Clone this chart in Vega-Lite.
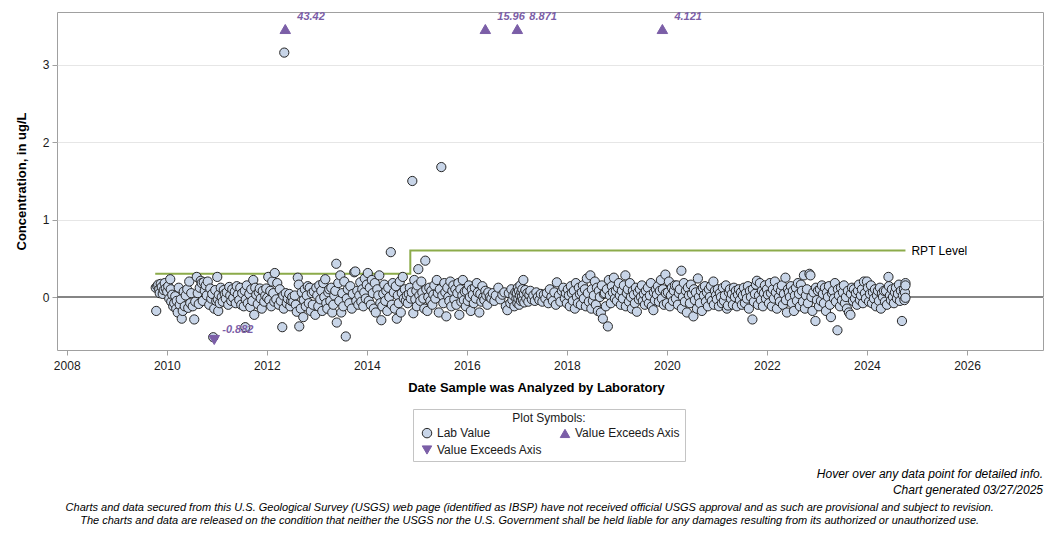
{
  "$schema": "https://vega.github.io/schema/vega-lite/v6.json",
  "autosize": {"type": "none"},
  "padding": {"left": 57, "top": 12, "right": 13, "bottom": 526},
  "background": "white",
  "title": {
    "text": [
      "Charts and data secured from this U.S. Geological Survey (USGS) web page (identified as IBSP) have not received official USGS approval and as such are provisional and subject to revision.",
      "The charts and data are released on the condition that neither the USGS nor the U.S. Government shall be held liable for any damages resulting from its authorized or unauthorized use."
    ],
    "orient": "bottom",
    "anchor": "middle",
    "frame": "bounds",
    "font": "Liberation Sans",
    "fontSize": 11,
    "fontStyle": "italic",
    "fontWeight": "normal",
    "lineHeight": 13,
    "color": "#000000",
    "offset": 5
  },
  "datasets": {
    "rpt": [
      {"yr": 2009.77, "level": 0.3},
      {"yr": 2014.87, "level": 0.6},
      {"yr": 2024.77, "level": 0.6}
    ],
    "rptLabel": [
      {"yr": 2024.77, "level": 0.6, "name": "RPT Level"}
    ],
    "above": [
      {"yr": 2012.37, "c": 43.42},
      {"yr": 2016.37, "c": 15.96},
      {"yr": 2017.01, "c": 8.871},
      {"yr": 2019.91, "c": 4.121}
    ],
    "below": [
      {"yr": 2010.95, "c": -0.882}
    ],
    "lab": [
      {"yr":2009.78,"c":0.12},{"yr":2009.79,"c":-0.18},{"yr":2009.81,"c":0.14},{"yr":2009.83,"c":0.16},{"yr":2009.85,"c":0.10},{"yr":2009.86,"c":0.05},{"yr":2009.88,"c":0.17},{"yr":2009.90,"c":0.13},{"yr":2009.92,"c":0.04},{"yr":2009.94,"c":0.09},{"yr":2009.96,"c":0.18},{"yr":2009.98,"c":0.11},
      {"yr":2010.01,"c":0.07},{"yr":2010.03,"c":0.14},{"yr":2010.05,"c":-0.02},{"yr":2010.07,"c":0.23},{"yr":2010.08,"c":0.10},{"yr":2010.09,"c":-0.06},{"yr":2010.11,"c":0.03},{"yr":2010.13,"c":-0.12},{"yr":2010.15,"c":-0.08},{"yr":2010.17,"c":0.01},{"yr":2010.19,"c":-0.15},{"yr":2010.20,"c":-0.05},{"yr":2010.22,"c":-0.20},{"yr":2010.24,"c":0.12},{"yr":2010.26,"c":-0.10},{"yr":2010.28,"c":-0.03},{"yr":2010.30,"c":-0.28},{"yr":2010.32,"c":-0.18},{"yr":2010.34,"c":0.07},{"yr":2010.36,"c":-0.12},{"yr":2010.38,"c":0.02},{"yr":2010.41,"c":0.10},{"yr":2010.43,"c":-0.14},{"yr":2010.45,"c":0.20},{"yr":2010.47,"c":-0.08},{"yr":2010.49,"c":0.05},{"yr":2010.52,"c":-0.12},{"yr":2010.55,"c":-0.29},{"yr":2010.57,"c":-0.06},{"yr":2010.60,"c":0.26},{"yr":2010.62,"c":0.05},{"yr":2010.64,"c":-0.09},{"yr":2010.66,"c":0.12},{"yr":2010.68,"c":0.21},{"yr":2010.70,"c":0.18},{"yr":2010.72,"c":-0.05},{"yr":2010.74,"c":0.19},{"yr":2010.76,"c":0.08},{"yr":2010.78,"c":0.15},{"yr":2010.80,"c":0.02},{"yr":2010.82,"c":0.20},{"yr":2010.85,"c":-0.10},{"yr":2010.87,"c":0.11},{"yr":2010.89,"c":-0.02},{"yr":2010.91,"c":0.04},{"yr":2010.93,"c":-0.52},{"yr":2010.95,"c":-0.15},{"yr":2010.97,"c":0.09},{"yr":2010.99,"c":-0.05},
      {"yr":2011.01,"c":0.26},{"yr":2011.02,"c":-0.03},{"yr":2011.03,"c":-0.18},{"yr":2011.04,"c":0.03},{"yr":2011.06,"c":-0.08},{"yr":2011.08,"c":0.12},{"yr":2011.10,"c":0.00},{"yr":2011.12,"c":-0.06},{"yr":2011.14,"c":0.09},{"yr":2011.16,"c":0.04},{"yr":2011.18,"c":-0.02},{"yr":2011.20,"c":0.06},{"yr":2011.23,"c":-0.10},{"yr":2011.25,"c":0.13},{"yr":2011.27,"c":0.02},{"yr":2011.29,"c":-0.05},{"yr":2011.31,"c":0.10},{"yr":2011.33,"c":-0.01},{"yr":2011.36,"c":0.07},{"yr":2011.38,"c":-0.08},{"yr":2011.40,"c":0.14},{"yr":2011.42,"c":0.03},{"yr":2011.45,"c":-0.04},{"yr":2011.47,"c":0.12},{"yr":2011.49,"c":-0.10},{"yr":2011.51,"c":0.05},{"yr":2011.54,"c":-0.12},{"yr":2011.56,"c":0.08},{"yr":2011.57,"c":-0.39},{"yr":2011.58,"c":-0.03},{"yr":2011.60,"c":0.15},{"yr":2011.62,"c":-0.08},{"yr":2011.65,"c":0.04},{"yr":2011.67,"c":-0.13},{"yr":2011.69,"c":0.10},{"yr":2011.71,"c":-0.05},{"yr":2011.73,"c":0.22},{"yr":2011.75,"c":-0.23},{"yr":2011.77,"c":0.12},{"yr":2011.79,"c":0.03},{"yr":2011.82,"c":-0.09},{"yr":2011.84,"c":0.06},{"yr":2011.86,"c":0.11},{"yr":2011.88,"c":-0.02},{"yr":2011.90,"c":-0.15},{"yr":2011.92,"c":0.08},{"yr":2011.95,"c":-0.06},{"yr":2011.97,"c":0.02},{"yr":2011.99,"c":0.11},
      {"yr":2012.01,"c":-0.01},{"yr":2012.03,"c":0.26},{"yr":2012.05,"c":-0.04},{"yr":2012.07,"c":0.08},{"yr":2012.09,"c":-0.12},{"yr":2012.11,"c":0.20},{"yr":2012.13,"c":0.05},{"yr":2012.15,"c":-0.06},{"yr":2012.16,"c":0.31},{"yr":2012.19,"c":-0.03},{"yr":2012.21,"c":0.18},{"yr":2012.24,"c":-0.10},{"yr":2012.26,"c":0.10},{"yr":2012.28,"c":-0.05},{"yr":2012.31,"c":-0.39},{"yr":2012.33,"c":0.02},{"yr":2012.34,"c":-0.15},{"yr":2012.35,"c":3.16},{"yr":2012.38,"c":0.05},{"yr":2012.40,"c":-0.08},{"yr":2012.42,"c":-0.02},{"yr":2012.45,"c":0.04},{"yr":2012.47,"c":-0.12},{"yr":2012.49,"c":-0.05},{"yr":2012.51,"c":0.00},{"yr":2012.53,"c":-0.06},{"yr":2012.56,"c":0.02},{"yr":2012.58,"c":-0.10},{"yr":2012.60,"c":-0.19},{"yr":2012.62,"c":0.25},{"yr":2012.64,"c":0.16},{"yr":2012.65,"c":-0.38},{"yr":2012.68,"c":-0.15},{"yr":2012.70,"c":0.06},{"yr":2012.73,"c":-0.26},{"yr":2012.74,"c":-0.04},{"yr":2012.76,"c":0.10},{"yr":2012.78,"c":-0.12},{"yr":2012.80,"c":0.02},{"yr":2012.82,"c":0.14},{"yr":2012.84,"c":-0.08},{"yr":2012.86,"c":0.12},{"yr":2012.88,"c":-0.18},{"yr":2012.90,"c":0.05},{"yr":2012.92,"c":-0.10},{"yr":2012.94,"c":0.07},{"yr":2012.97,"c":-0.23},{"yr":2012.99,"c":0.12},
      {"yr":2013.01,"c":0.02},{"yr":2013.03,"c":-0.12},{"yr":2013.05,"c":0.15},{"yr":2013.07,"c":-0.03},{"yr":2013.09,"c":0.08},{"yr":2013.11,"c":-0.18},{"yr":2013.13,"c":0.18},{"yr":2013.15,"c":0.00},{"yr":2013.17,"c":0.23},{"yr":2013.19,"c":-0.08},{"yr":2013.21,"c":-0.15},{"yr":2013.23,"c":0.06},{"yr":2013.25,"c":0.10},{"yr":2013.27,"c":-0.05},{"yr":2013.29,"c":0.12},{"yr":2013.31,"c":-0.20},{"yr":2013.33,"c":-0.10},{"yr":2013.35,"c":0.02},{"yr":2013.37,"c":0.08},{"yr":2013.39,"c":0.43},{"yr":2013.40,"c":-0.33},{"yr":2013.43,"c":0.18},{"yr":2013.45,"c":-0.05},{"yr":2013.47,"c":0.28},{"yr":2013.49,"c":-0.20},{"yr":2013.51,"c":0.05},{"yr":2013.53,"c":-0.12},{"yr":2013.55,"c":0.20},{"yr":2013.58,"c":-0.51},{"yr":2013.60,"c":-0.02},{"yr":2013.62,"c":0.10},{"yr":2013.65,"c":-0.08},{"yr":2013.67,"c":0.14},{"yr":2013.70,"c":-0.15},{"yr":2013.72,"c":0.04},{"yr":2013.75,"c":0.32},{"yr":2013.77,"c":0.33},{"yr":2013.79,"c":-0.05},{"yr":2013.81,"c":0.08},{"yr":2013.83,"c":-0.10},{"yr":2013.85,"c":0.02},{"yr":2013.87,"c":0.19},{"yr":2013.89,"c":-0.06},{"yr":2013.91,"c":0.10},{"yr":2013.93,"c":-0.12},{"yr":2013.95,"c":0.06},{"yr":2013.96,"c":0.24},{"yr":2013.98,"c":-0.02},
      {"yr":2014.00,"c":0.16},{"yr":2014.02,"c":0.31},{"yr":2014.04,"c":-0.05},{"yr":2014.06,"c":0.12},{"yr":2014.08,"c":-0.10},{"yr":2014.10,"c":0.22},{"yr":2014.12,"c":0.05},{"yr":2014.14,"c":-0.15},{"yr":2014.16,"c":0.18},{"yr":2014.18,"c":-0.20},{"yr":2014.21,"c":0.10},{"yr":2014.23,"c":0.02},{"yr":2014.25,"c":0.28},{"yr":2014.27,"c":-0.08},{"yr":2014.29,"c":-0.30},{"yr":2014.31,"c":-0.12},{"yr":2014.33,"c":0.04},{"yr":2014.35,"c":0.16},{"yr":2014.37,"c":-0.05},{"yr":2014.39,"c":0.08},{"yr":2014.41,"c":-0.18},{"yr":2014.43,"c":0.12},{"yr":2014.45,"c":0.00},{"yr":2014.48,"c":0.58},{"yr":2014.50,"c":-0.10},{"yr":2014.52,"c":0.18},{"yr":2014.54,"c":0.06},{"yr":2014.56,"c":-0.15},{"yr":2014.58,"c":0.14},{"yr":2014.60,"c":-0.28},{"yr":2014.62,"c":0.02},{"yr":2014.64,"c":-0.08},{"yr":2014.66,"c":0.20},{"yr":2014.68,"c":-0.20},{"yr":2014.70,"c":0.05},{"yr":2014.72,"c":0.26},{"yr":2014.74,"c":-0.02},{"yr":2014.76,"c":0.10},{"yr":2014.78,"c":-0.05},{"yr":2014.80,"c":0.02},{"yr":2014.82,"c":-0.08},{"yr":2014.84,"c":0.04},{"yr":2014.86,"c":0.12},{"yr":2014.88,"c":-0.02},{"yr":2014.90,"c":0.06},{"yr":2014.91,"c":1.50},{"yr":2014.93,"c":-0.21},{"yr":2014.95,"c":0.22},{"yr":2014.97,"c":-0.03},{"yr":2014.99,"c":0.08},
      {"yr":2015.00,"c":-0.12},{"yr":2015.01,"c":0.15},{"yr":2015.03,"c":0.36},{"yr":2015.05,"c":0.02},{"yr":2015.07,"c":-0.05},{"yr":2015.09,"c":0.20},{"yr":2015.11,"c":0.06},{"yr":2015.13,"c":-0.02},{"yr":2015.15,"c":-0.15},{"yr":2015.17,"c":0.47},{"yr":2015.19,"c":0.10},{"yr":2015.21,"c":-0.18},{"yr":2015.23,"c":0.00},{"yr":2015.25,"c":0.12},{"yr":2015.27,"c":-0.05},{"yr":2015.29,"c":0.08},{"yr":2015.31,"c":-0.10},{"yr":2015.33,"c":0.03},{"yr":2015.35,"c":0.15},{"yr":2015.37,"c":-0.02},{"yr":2015.40,"c":0.22},{"yr":2015.42,"c":0.05},{"yr":2015.44,"c":-0.20},{"yr":2015.46,"c":0.10},{"yr":2015.49,"c":1.68},{"yr":2015.51,"c":0.02},{"yr":2015.53,"c":-0.08},{"yr":2015.55,"c":0.18},{"yr":2015.57,"c":0.06},{"yr":2015.59,"c":-0.25},{"yr":2015.61,"c":0.12},{"yr":2015.63,"c":0.00},{"yr":2015.65,"c":-0.05},{"yr":2015.67,"c":0.20},{"yr":2015.69,"c":-0.12},{"yr":2015.71,"c":0.08},{"yr":2015.73,"c":0.15},{"yr":2015.75,"c":-0.03},{"yr":2015.77,"c":0.10},{"yr":2015.79,"c":-0.10},{"yr":2015.81,"c":0.05},{"yr":2015.83,"c":0.18},{"yr":2015.85,"c":-0.23},{"yr":2015.87,"c":0.10},{"yr":2015.89,"c":-0.06},{"yr":2015.91,"c":0.02},{"yr":2015.92,"c":0.22},{"yr":2015.94,"c":-0.04},{"yr":2015.96,"c":0.07},{"yr":2015.98,"c":-0.12},
      {"yr":2016.00,"c":0.08},{"yr":2016.02,"c":-0.05},{"yr":2016.04,"c":0.15},{"yr":2016.06,"c":0.00},{"yr":2016.08,"c":-0.18},{"yr":2016.10,"c":0.10},{"yr":2016.12,"c":0.03},{"yr":2016.14,"c":-0.08},{"yr":2016.16,"c":0.12},{"yr":2016.18,"c":-0.02},{"yr":2016.20,"c":0.18},{"yr":2016.22,"c":0.06},{"yr":2016.25,"c":-0.20},{"yr":2016.27,"c":0.04},{"yr":2016.29,"c":-0.06},{"yr":2016.31,"c":0.14},{"yr":2016.33,"c":0.00},{"yr":2016.35,"c":-0.04},{"yr":2016.37,"c":0.08},{"yr":2016.39,"c":0.02},{"yr":2016.41,"c":-0.10},{"yr":2016.43,"c":0.06},{"yr":2016.46,"c":0.00},{"yr":2016.49,"c":-0.02},{"yr":2016.52,"c":0.05},{"yr":2016.55,"c":-0.05},{"yr":2016.58,"c":0.02},{"yr":2016.63,"c":0.12},{"yr":2016.67,"c":-0.03},{"yr":2016.71,"c":0.03},{"yr":2016.75,"c":0.06},{"yr":2016.78,"c":-0.12},{"yr":2016.81,"c":-0.17},{"yr":2016.84,"c":0.05},{"yr":2016.87,"c":-0.08},{"yr":2016.89,"c":0.10},{"yr":2016.91,"c":-0.04},{"yr":2016.93,"c":0.02},{"yr":2016.95,"c":-0.12},{"yr":2016.97,"c":0.06},{"yr":2016.99,"c":-0.02},
      {"yr":2017.00,"c":0.05},{"yr":2017.01,"c":-0.08},{"yr":2017.02,"c":0.12},{"yr":2017.03,"c":-0.02},{"yr":2017.04,"c":0.08},{"yr":2017.05,"c":-0.10},{"yr":2017.06,"c":0.02},{"yr":2017.07,"c":0.15},{"yr":2017.08,"c":-0.05},{"yr":2017.09,"c":0.06},{"yr":2017.10,"c":0.00},{"yr":2017.11,"c":0.10},{"yr":2017.12,"c":-0.04},{"yr":2017.13,"c":0.22},{"yr":2017.14,"c":0.04},{"yr":2017.15,"c":-0.07},{"yr":2017.17,"c":0.09},{"yr":2017.19,"c":-0.02},{"yr":2017.21,"c":0.05},{"yr":2017.23,"c":-0.06},{"yr":2017.25,"c":0.03},{"yr":2017.27,"c":0.08},{"yr":2017.30,"c":-0.03},{"yr":2017.33,"c":0.02},{"yr":2017.36,"c":-0.05},{"yr":2017.39,"c":0.06},{"yr":2017.42,"c":0.00},{"yr":2017.45,"c":-0.04},{"yr":2017.48,"c":0.04},{"yr":2017.51,"c":-0.06},{"yr":2017.54,"c":0.03},{"yr":2017.57,"c":-0.02},{"yr":2017.60,"c":0.05},{"yr":2017.63,"c":-0.08},{"yr":2017.66,"c":0.10},{"yr":2017.69,"c":0.00},{"yr":2017.72,"c":-0.05},{"yr":2017.75,"c":0.06},{"yr":2017.78,"c":-0.10},{"yr":2017.80,"c":0.19},{"yr":2017.84,"c":0.02},{"yr":2017.87,"c":-0.06},{"yr":2017.90,"c":0.08},{"yr":2017.93,"c":0.12},{"yr":2017.96,"c":-0.02},{"yr":2017.98,"c":0.05},
      {"yr":2018.00,"c":-0.08},{"yr":2018.02,"c":0.10},{"yr":2018.04,"c":0.02},{"yr":2018.06,"c":-0.12},{"yr":2018.08,"c":0.14},{"yr":2018.10,"c":0.05},{"yr":2018.12,"c":-0.05},{"yr":2018.14,"c":0.08},{"yr":2018.16,"c":-0.15},{"yr":2018.18,"c":0.18},{"yr":2018.20,"c":0.00},{"yr":2018.22,"c":-0.08},{"yr":2018.24,"c":0.12},{"yr":2018.26,"c":0.04},{"yr":2018.28,"c":-0.10},{"yr":2018.30,"c":0.06},{"yr":2018.32,"c":0.15},{"yr":2018.34,"c":-0.02},{"yr":2018.36,"c":0.10},{"yr":2018.38,"c":-0.12},{"yr":2018.40,"c":0.24},{"yr":2018.42,"c":0.05},{"yr":2018.44,"c":-0.06},{"yr":2018.47,"c":0.28},{"yr":2018.49,"c":-0.15},{"yr":2018.50,"c":0.10},{"yr":2018.52,"c":-0.05},{"yr":2018.54,"c":0.02},{"yr":2018.56,"c":0.20},{"yr":2018.58,"c":-0.10},{"yr":2018.60,"c":0.12},{"yr":2018.62,"c":-0.18},{"yr":2018.64,"c":0.08},{"yr":2018.66,"c":0.00},{"yr":2018.68,"c":-0.20},{"yr":2018.70,"c":0.15},{"yr":2018.72,"c":-0.28},{"yr":2018.74,"c":0.04},{"yr":2018.76,"c":0.05},{"yr":2018.78,"c":-0.12},{"yr":2018.80,"c":0.10},{"yr":2018.82,"c":-0.38},{"yr":2018.84,"c":0.22},{"yr":2018.86,"c":0.02},{"yr":2018.88,"c":-0.08},{"yr":2018.90,"c":0.14},{"yr":2018.92,"c":0.06},{"yr":2018.94,"c":0.25},{"yr":2018.96,"c":-0.02},{"yr":2018.98,"c":0.08},
      {"yr":2019.00,"c":-0.05},{"yr":2019.02,"c":0.12},{"yr":2019.04,"c":0.18},{"yr":2019.06,"c":0.02},{"yr":2019.08,"c":-0.10},{"yr":2019.10,"c":0.08},{"yr":2019.12,"c":-0.02},{"yr":2019.14,"c":0.15},{"yr":2019.17,"c":0.28},{"yr":2019.18,"c":-0.12},{"yr":2019.20,"c":0.05},{"yr":2019.22,"c":0.10},{"yr":2019.24,"c":-0.06},{"yr":2019.26,"c":0.18},{"yr":2019.28,"c":0.00},{"yr":2019.30,"c":-0.15},{"yr":2019.32,"c":0.08},{"yr":2019.34,"c":0.03},{"yr":2019.36,"c":-0.08},{"yr":2019.38,"c":0.12},{"yr":2019.40,"c":-0.19},{"yr":2019.42,"c":0.06},{"yr":2019.44,"c":-0.03},{"yr":2019.46,"c":0.10},{"yr":2019.48,"c":0.00},{"yr":2019.50,"c":0.15},{"yr":2019.52,"c":-0.05},{"yr":2019.54,"c":0.04},{"yr":2019.56,"c":-0.10},{"yr":2019.58,"c":0.08},{"yr":2019.60,"c":-0.02},{"yr":2019.62,"c":0.12},{"yr":2019.64,"c":-0.08},{"yr":2019.66,"c":0.02},{"yr":2019.68,"c":0.18},{"yr":2019.70,"c":-0.12},{"yr":2019.73,"c":-0.17},{"yr":2019.74,"c":0.06},{"yr":2019.76,"c":-0.04},{"yr":2019.78,"c":0.10},{"yr":2019.80,"c":0.03},{"yr":2019.82,"c":0.14},{"yr":2019.84,"c":-0.06},{"yr":2019.86,"c":0.08},{"yr":2019.88,"c":0.22},{"yr":2019.90,"c":-0.02},{"yr":2019.92,"c":0.10},{"yr":2019.94,"c":-0.10},{"yr":2019.97,"c":0.29},{"yr":2019.98,"c":0.05},
      {"yr":2020.00,"c":-0.08},{"yr":2020.02,"c":0.06},{"yr":2020.04,"c":0.20},{"yr":2020.06,"c":-0.12},{"yr":2020.08,"c":0.02},{"yr":2020.10,"c":0.12},{"yr":2020.12,"c":-0.05},{"yr":2020.14,"c":0.08},{"yr":2020.16,"c":0.15},{"yr":2020.18,"c":-0.02},{"yr":2020.20,"c":0.15},{"yr":2020.22,"c":-0.10},{"yr":2020.24,"c":0.05},{"yr":2020.26,"c":0.10},{"yr":2020.29,"c":0.34},{"yr":2020.30,"c":-0.15},{"yr":2020.32,"c":0.00},{"yr":2020.34,"c":0.18},{"yr":2020.36,"c":-0.06},{"yr":2020.38,"c":0.08},{"yr":2020.40,"c":-0.20},{"yr":2020.42,"c":0.12},{"yr":2020.44,"c":0.02},{"yr":2020.46,"c":-0.08},{"yr":2020.48,"c":0.16},{"yr":2020.50,"c":0.04},{"yr":2020.53,"c":-0.25},{"yr":2020.54,"c":0.10},{"yr":2020.56,"c":-0.04},{"yr":2020.58,"c":0.06},{"yr":2020.60,"c":-0.15},{"yr":2020.62,"c":0.24},{"yr":2020.64,"c":0.00},{"yr":2020.66,"c":-0.08},{"yr":2020.68,"c":0.08},{"yr":2020.70,"c":-0.18},{"yr":2020.72,"c":0.12},{"yr":2020.74,"c":0.02},{"yr":2020.76,"c":0.14},{"yr":2020.78,"c":-0.06},{"yr":2020.80,"c":0.06},{"yr":2020.82,"c":-0.12},{"yr":2020.84,"c":0.10},{"yr":2020.86,"c":0.00},{"yr":2020.88,"c":0.14},{"yr":2020.90,"c":-0.05},{"yr":2020.93,"c":0.20},{"yr":2020.94,"c":-0.10},{"yr":2020.96,"c":0.08},{"yr":2020.98,"c":0.02},
      {"yr":2021.00,"c":-0.03},{"yr":2021.02,"c":0.10},{"yr":2021.04,"c":-0.12},{"yr":2021.06,"c":0.05},{"yr":2021.08,"c":0.00},{"yr":2021.10,"c":-0.08},{"yr":2021.12,"c":0.12},{"yr":2021.14,"c":-0.05},{"yr":2021.16,"c":0.02},{"yr":2021.18,"c":0.15},{"yr":2021.20,"c":-0.15},{"yr":2021.22,"c":-0.11},{"yr":2021.24,"c":0.06},{"yr":2021.26,"c":0.10},{"yr":2021.28,"c":-0.02},{"yr":2021.30,"c":0.04},{"yr":2021.32,"c":-0.10},{"yr":2021.34,"c":0.12},{"yr":2021.36,"c":0.00},{"yr":2021.38,"c":0.08},{"yr":2021.40,"c":-0.12},{"yr":2021.42,"c":0.03},{"yr":2021.44,"c":0.10},{"yr":2021.46,"c":-0.04},{"yr":2021.48,"c":0.06},{"yr":2021.50,"c":-0.10},{"yr":2021.52,"c":0.02},{"yr":2021.54,"c":0.12},{"yr":2021.56,"c":-0.08},{"yr":2021.58,"c":0.05},{"yr":2021.60,"c":-0.02},{"yr":2021.62,"c":0.14},{"yr":2021.64,"c":-0.15},{"yr":2021.66,"c":0.08},{"yr":2021.68,"c":0.00},{"yr":2021.71,"c":-0.29},{"yr":2021.72,"c":0.10},{"yr":2021.74,"c":-0.06},{"yr":2021.76,"c":0.04},{"yr":2021.78,"c":0.16},{"yr":2021.80,"c":0.21},{"yr":2021.82,"c":-0.10},{"yr":2021.84,"c":0.02},{"yr":2021.86,"c":0.18},{"yr":2021.88,"c":-0.04},{"yr":2021.90,"c":0.08},{"yr":2021.92,"c":-0.12},{"yr":2021.94,"c":0.05},{"yr":2021.96,"c":0.15},{"yr":2021.98,"c":-0.02},
      {"yr":2022.00,"c":0.10},{"yr":2022.02,"c":0.03},{"yr":2022.04,"c":-0.08},{"yr":2022.06,"c":0.18},{"yr":2022.08,"c":0.05},{"yr":2022.10,"c":-0.12},{"yr":2022.12,"c":0.10},{"yr":2022.14,"c":-0.02},{"yr":2022.16,"c":0.20},{"yr":2022.18,"c":0.06},{"yr":2022.20,"c":-0.15},{"yr":2022.22,"c":0.12},{"yr":2022.24,"c":0.00},{"yr":2022.26,"c":-0.06},{"yr":2022.28,"c":0.08},{"yr":2022.30,"c":0.15},{"yr":2022.32,"c":-0.10},{"yr":2022.34,"c":0.04},{"yr":2022.37,"c":0.25},{"yr":2022.38,"c":-0.04},{"yr":2022.40,"c":-0.20},{"yr":2022.42,"c":0.10},{"yr":2022.44,"c":0.06},{"yr":2022.46,"c":0.00},{"yr":2022.48,"c":0.14},{"yr":2022.50,"c":-0.08},{"yr":2022.52,"c":0.08},{"yr":2022.54,"c":-0.18},{"yr":2022.56,"c":0.02},{"yr":2022.58,"c":0.12},{"yr":2022.60,"c":-0.05},{"yr":2022.62,"c":0.18},{"yr":2022.64,"c":0.04},{"yr":2022.66,"c":-0.12},{"yr":2022.68,"c":0.16},{"yr":2022.70,"c":0.08},{"yr":2022.72,"c":-0.06},{"yr":2022.74,"c":0.28},{"yr":2022.76,"c":-0.15},{"yr":2022.78,"c":0.02},{"yr":2022.80,"c":0.10},{"yr":2022.82,"c":-0.08},{"yr":2022.85,"c":0.30},{"yr":2022.87,"c":0.28},{"yr":2022.89,"c":0.00},{"yr":2022.91,"c":-0.18},{"yr":2022.93,"c":0.06},{"yr":2022.97,"c":-0.31},{"yr":2022.98,"c":0.12},
      {"yr":2023.00,"c":-0.04},{"yr":2023.02,"c":0.08},{"yr":2023.04,"c":-0.12},{"yr":2023.06,"c":0.10},{"yr":2023.08,"c":-0.05},{"yr":2023.10,"c":0.15},{"yr":2023.12,"c":0.04},{"yr":2023.14,"c":-0.08},{"yr":2023.16,"c":0.12},{"yr":2023.18,"c":-0.18},{"yr":2023.20,"c":0.06},{"yr":2023.22,"c":0.00},{"yr":2023.24,"c":0.14},{"yr":2023.26,"c":-0.10},{"yr":2023.28,"c":-0.26},{"yr":2023.30,"c":0.05},{"yr":2023.32,"c":0.08},{"yr":2023.34,"c":-0.02},{"yr":2023.36,"c":0.18},{"yr":2023.38,"c":-0.06},{"yr":2023.41,"c":-0.43},{"yr":2023.42,"c":0.10},{"yr":2023.44,"c":0.02},{"yr":2023.46,"c":-0.12},{"yr":2023.48,"c":0.12},{"yr":2023.50,"c":-0.04},{"yr":2023.52,"c":0.06},{"yr":2023.54,"c":0.15},{"yr":2023.56,"c":-0.08},{"yr":2023.58,"c":0.00},{"yr":2023.60,"c":-0.15},{"yr":2023.62,"c":0.08},{"yr":2023.64,"c":-0.20},{"yr":2023.67,"c":-0.23},{"yr":2023.68,"c":0.04},{"yr":2023.70,"c":0.12},{"yr":2023.72,"c":-0.05},{"yr":2023.74,"c":0.10},{"yr":2023.76,"c":-0.02},{"yr":2023.78,"c":0.05},{"yr":2023.80,"c":-0.10},{"yr":2023.82,"c":0.08},{"yr":2023.84,"c":0.16},{"yr":2023.86,"c":-0.04},{"yr":2023.88,"c":0.02},{"yr":2023.90,"c":0.10},{"yr":2023.92,"c":-0.08},{"yr":2023.94,"c":0.20},{"yr":2023.96,"c":0.05},{"yr":2023.98,"c":-0.02},
      {"yr":2024.00,"c":0.20},{"yr":2024.02,"c":0.12},{"yr":2024.04,"c":-0.06},{"yr":2024.06,"c":0.04},{"yr":2024.08,"c":0.15},{"yr":2024.10,"c":-0.08},{"yr":2024.12,"c":0.06},{"yr":2024.14,"c":-0.02},{"yr":2024.16,"c":0.10},{"yr":2024.18,"c":-0.12},{"yr":2024.20,"c":0.02},{"yr":2024.22,"c":0.08},{"yr":2024.24,"c":-0.05},{"yr":2024.26,"c":0.12},{"yr":2024.28,"c":-0.15},{"yr":2024.30,"c":0.05},{"yr":2024.32,"c":0.00},{"yr":2024.34,"c":0.08},{"yr":2024.36,"c":-0.06},{"yr":2024.38,"c":0.08},{"yr":2024.40,"c":-0.10},{"yr":2024.43,"c":0.26},{"yr":2024.44,"c":0.14},{"yr":2024.46,"c":0.02},{"yr":2024.48,"c":-0.04},{"yr":2024.50,"c":0.10},{"yr":2024.52,"c":0.00},{"yr":2024.54,"c":-0.08},{"yr":2024.56,"c":0.06},{"yr":2024.58,"c":0.12},{"yr":2024.60,"c":-0.02},{"yr":2024.62,"c":0.04},{"yr":2024.64,"c":0.16},{"yr":2024.66,"c":-0.05},{"yr":2024.68,"c":0.08},{"yr":2024.70,"c":-0.31},{"yr":2024.72,"c":0.02},{"yr":2024.74,"c":0.10},{"yr":2024.75,"c":-0.04},{"yr":2024.76,"c":0.06},{"yr":2024.77,"c":0.18},{"yr":2024.77,"c":0.15},{"yr":2024.77,"c":-0.01}
    ]
  },
  "vconcat": [
    {
      "width": 986,
      "height": 338,
      "title": {
        "text": ["Hover over any data point for detailed info.", "Chart generated 03/27/2025"],
        "orient": "bottom",
        "anchor": "end",
        "frame": "group",
        "font": "Liberation Sans",
        "fontSize": 12,
        "fontStyle": "italic",
        "fontWeight": "normal",
        "lineHeight": 16,
        "color": "#000000",
        "offset": 75
      },
      "layer": [
        {
          "data": {"values": [{"level": 0}]},
          "mark": {"type": "rule", "color": "#858585", "strokeWidth": 2},
          "encoding": {
            "y": {
              "field": "level",
              "type": "quantitative",
              "scale": {"domain": [-0.685, 3.685], "nice": false, "zero": false, "clamp": true},
              "axis": {
                "title": "Concentration, in ug/L",
                "values": [0, 1, 2, 3],
                "format": "d",
                "grid": true,
                "gridColor": "#e6e6e6",
                "gridWidth": 1,
                "titlePadding": 14,
                "labelPadding": 3
              }
            }
          }
        },
        {
          "data": {"name": "rpt"},
          "mark": {"type": "line", "interpolate": "step-after", "color": "#8cab4a", "strokeWidth": 2},
          "encoding": {
            "x": {
              "field": "yr",
              "type": "quantitative",
              "scale": {"domain": [2007.806, 2027.52], "nice": false, "zero": false},
              "axis": {
                "title": "Date Sample was Analyzed by Laboratory",
                "values": [2008, 2010, 2012, 2014, 2016, 2018, 2020, 2022, 2024, 2026],
                "format": "d",
                "grid": false,
                "labelPadding": 5,
                "titlePadding": 10,
                "titleX": 479
              }
            },
            "y": {"field": "level", "type": "quantitative"}
          }
        },
        {
          "data": {"name": "rptLabel"},
          "mark": {"type": "text", "align": "left", "baseline": "middle", "dx": 6, "fontSize": 12, "font": "Liberation Sans", "color": "#000000"},
          "encoding": {
            "x": {"field": "yr", "type": "quantitative"},
            "y": {"field": "level", "type": "quantitative"},
            "text": {"field": "name", "type": "nominal"}
          }
        },
        {
          "data": {"name": "lab"},
          "mark": {"type": "point", "filled": true, "size": 85, "strokeWidth": 1, "opacity": 1},
          "encoding": {
            "x": {"field": "yr", "type": "quantitative"},
            "y": {"field": "c", "type": "quantitative"},
            "shape": {"datum": "Lab Value", "scale": {"domain": ["Lab Value", "Above axis", "Below axis"], "range": ["circle", "triangle-up", "triangle-down"]}, "legend": {"title": "Plot Symbols:", "labelExpr": "datum.label == 'Lab Value' ? 'Lab Value' : 'Value Exceeds Axis'"}},
            "fill": {"datum": "Lab Value", "scale": {"domain": ["Lab Value", "Above axis", "Below axis"], "range": ["#c8d5e8", "#7b5ea7", "#7b5ea7"]}, "legend": {"title": "Plot Symbols:", "labelExpr": "datum.label == 'Lab Value' ? 'Lab Value' : 'Value Exceeds Axis'"}},
            "stroke": {"datum": "Lab Value", "scale": {"domain": ["Lab Value", "Above axis", "Below axis"], "range": ["#262626", "#7b5ea7", "#7b5ea7"]}, "legend": {"title": "Plot Symbols:", "labelExpr": "datum.label == 'Lab Value' ? 'Lab Value' : 'Value Exceeds Axis'"}}
          }
        },
        {
          "data": {"name": "above"},
          "mark": {"type": "point", "filled": true, "size": 110, "strokeWidth": 1, "opacity": 1, "yOffset": 17},
          "encoding": {
            "x": {"field": "yr", "type": "quantitative"},
            "y": {"field": "c", "type": "quantitative"},
            "shape": {"datum": "Above axis"},
            "fill": {"datum": "Above axis"},
            "stroke": {"datum": "Above axis"}
          }
        },
        {
          "data": {"name": "below"},
          "mark": {"type": "point", "filled": true, "size": 110, "strokeWidth": 1, "opacity": 1, "yOffset": -10},
          "encoding": {
            "x": {"field": "yr", "type": "quantitative"},
            "y": {"field": "c", "type": "quantitative"},
            "shape": {"datum": "Below axis"},
            "fill": {"datum": "Below axis"},
            "stroke": {"datum": "Below axis"}
          }
        },
        {
          "data": {"name": "above"},
          "mark": {"type": "text", "align": "left", "baseline": "middle", "dx": 12, "yOffset": 5, "font": "Liberation Sans", "fontSize": 11, "fontWeight": "bold", "fontStyle": "italic", "color": "#7b5ea7"},
          "encoding": {
            "x": {"field": "yr", "type": "quantitative"},
            "y": {"field": "c", "type": "quantitative"},
            "text": {"field": "c", "type": "nominal"}
          }
        },
        {
          "data": {"name": "below"},
          "mark": {"type": "text", "align": "left", "baseline": "middle", "dx": 8, "yOffset": -20, "font": "Liberation Sans", "fontSize": 11, "fontWeight": "bold", "fontStyle": "italic", "color": "#7b5ea7"},
          "encoding": {
            "x": {"field": "yr", "type": "quantitative"},
            "y": {"field": "c", "type": "quantitative"},
            "text": {"field": "c", "type": "nominal"}
          }
        }
      ]
    }
  ],
  "config": {
    "font": "Liberation Sans",
    "view": {"stroke": "#a0a0a0", "strokeWidth": 1},
    "axis": {
      "domain": false,
      "labelFont": "Liberation Sans",
      "labelFontSize": 12,
      "labelColor": "#1a1a1a",
      "titleFont": "Liberation Sans",
      "titleFontSize": 13,
      "titleFontWeight": "bold",
      "titleColor": "#000000",
      "tickColor": "#a0a0a0",
      "tickSize": 5
    },
    "legend": {
      "orient": "none",
      "legendX": 356,
      "legendY": 397,
      "direction": "horizontal",
      "columns": 2,
      "strokeColor": "#c4c4c4",
      "padding": 4,
      "symbolOffset": 4,
      "titleAnchor": "middle",
      "titleFont": "Liberation Sans",
      "titleFontSize": 12,
      "titleFontWeight": "normal",
      "titleColor": "#1a1a1a",
      "titlePadding": 2,
      "labelFont": "Liberation Sans",
      "labelFontSize": 12,
      "labelColor": "#1a1a1a",
      "symbolSize": 90,
      "symbolStrokeWidth": 1,
      "rowPadding": 3,
      "columnPadding": 12
    }
  }
}
